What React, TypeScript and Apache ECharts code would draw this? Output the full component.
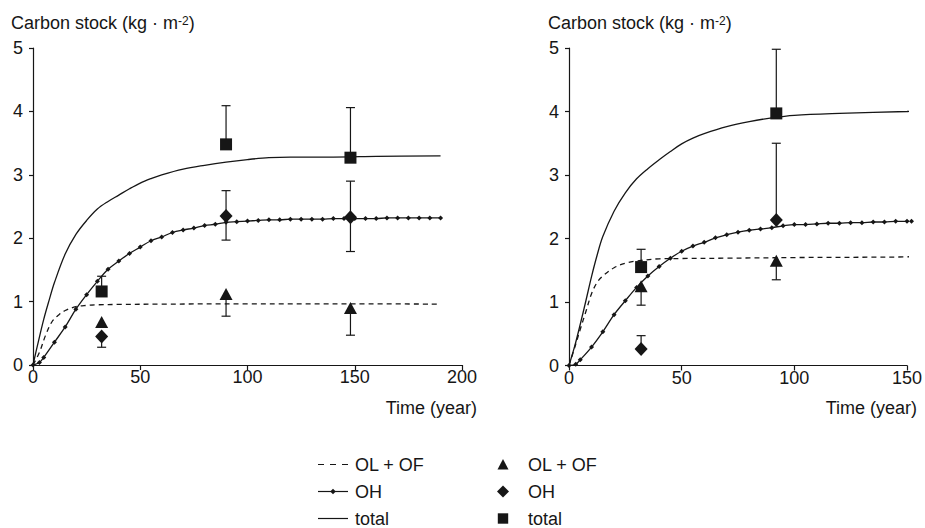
import React, { useEffect, useRef } from "react";
import * as echarts from "echarts";

const FONT = "'Liberation Sans', Arial, Helvetica, sans-serif";
const INK = "#161616";

// ---------- Left panel: model curves ----------
const leftOhT = [0, 3, 5, 10, 15, 20, 25, 30, 35, 40, 45, 50, 55, 60, 65, 70, 75, 80, 85, 90, 95, 100, 105, 110, 115, 120, 125, 130, 135, 140, 145, 150, 155, 160, 165, 170, 175, 180, 185, 190];
const leftOhC = [0, 0.04, 0.12, 0.36, 0.6, 0.88, 1.11, 1.32, 1.51, 1.64, 1.76, 1.86, 1.96, 2.02, 2.09, 2.13, 2.16, 2.2, 2.22, 2.25, 2.26, 2.27, 2.28, 2.29, 2.29, 2.3, 2.3, 2.3, 2.3, 2.31, 2.31, 2.31, 2.31, 2.31, 2.32, 2.32, 2.32, 2.32, 2.32, 2.32];
const leftTotT = [0, 2.5, 5, 7.5, 10, 15, 20, 25, 30, 35, 40, 45, 50, 55, 60, 70, 80, 90, 100, 110, 120, 140, 160, 190];
const leftTotC = [0, 0.37, 0.72, 1.02, 1.3, 1.75, 2.06, 2.28, 2.46, 2.58, 2.68, 2.78, 2.87, 2.94, 3.0, 3.09, 3.15, 3.2, 3.24, 3.27, 3.28, 3.28, 3.29, 3.3];
const leftFfT = [0, 3, 6, 9, 12, 15, 20, 25, 30, 40, 60, 100, 150, 190];
const leftFfC = [0, 0.2, 0.48, 0.69, 0.79, 0.86, 0.92, 0.94, 0.95, 0.955, 0.96, 0.965, 0.965, 0.96];

// ---------- Left panel: observations ----------
const leftObsT = [32, 90, 148];
const leftFfVal = [0.68, 1.12, 0.9];
const leftFfLow = [0.68, 0.77, 0.47];
const leftFfHigh = [0.68, 1.12, 0.9];
const leftOhVal = [0.45, 2.35, 2.33];
const leftOhLow = [0.28, 1.97, 1.79];
const leftOhHigh = [0.45, 2.75, 2.9];
const leftTotVal = [1.16, 3.48, 3.27];
const leftTotLow = [1.16, 3.48, 3.27];
const leftTotHigh = [1.4, 4.09, 4.06];

// ---------- Right panel: model curves ----------
const rightOhT = [0, 3, 5, 10, 15, 20, 25, 30, 35, 40, 45, 50, 55, 60, 65, 70, 75, 80, 85, 90, 95, 100, 105, 110, 115, 120, 125, 130, 135, 140, 145, 150, 152];
const rightOhC = [0, 0.02, 0.09, 0.29, 0.53, 0.8, 1.02, 1.23, 1.41, 1.56, 1.69, 1.8, 1.88, 1.94, 2.01, 2.06, 2.1, 2.13, 2.15, 2.17, 2.2, 2.22, 2.22, 2.23, 2.24, 2.24, 2.25, 2.25, 2.26, 2.26, 2.27, 2.27, 2.27];
const rightTotT = [0, 2.5, 5, 7.5, 10, 12.5, 15, 20, 25, 30, 35, 40, 45, 50, 55, 60, 70, 80, 90, 100, 120, 150, 152];
const rightTotC = [0, 0.3, 0.65, 1.02, 1.4, 1.74, 2.03, 2.43, 2.72, 2.94, 3.1, 3.24, 3.37, 3.49, 3.58, 3.65, 3.76, 3.84, 3.9, 3.94, 3.97, 4.0, 4.01];
const rightFfT = [0, 2.5, 5, 7.5, 10, 12.5, 15, 20, 25, 30, 40, 50, 70, 100, 150, 152];
const rightFfC = [0, 0.28, 0.57, 0.85, 1.13, 1.31, 1.41, 1.54, 1.61, 1.645, 1.68, 1.685, 1.69, 1.7, 1.71, 1.72];

// ---------- Right panel: observations ----------
const rightObsT = [32, 92];
const rightFfVal = [1.25, 1.65];
const rightFfLow = [0.95, 1.35];
const rightFfHigh = [1.25, 1.65];
const rightOhVal = [0.26, 2.29];
const rightOhLow = [0.26, 2.29];
const rightOhHigh = [0.47, 3.5];
const rightTotVal = [1.55, 3.97];
const rightTotLow = [1.55, 3.97];
const rightTotHigh = [1.83, 4.98];

// ---------- Axis ticks / labels ----------
const leftXMax = 200;
const rightXMax = 150;
const xStep = 50;
const yMax = 5;
const yStep = 1;
const yTitle = "{a|Carbon stock (kg · m}{s|-2}{a|)}";
const xTitle = "Time (year)";
const legendLineNames = ["OL + OF", "OH", "total"];
const legendMarkNames = ["OL + OF", "OH", "total"];

const pairs = (xs: number[], ys: number[]) => xs.map((x, i) => [x, ys[i]]);
const bars = (xs: number[], v: number[], lo: number[], hi: number[]) =>
  xs.map((x, i) => [x, v[i], lo[i], hi[i]]);

const renderErr = (_params: any, api: any) => {
  const x = api.value(0);
  const v = api.value(1);
  const lo = api.value(2);
  const hi = api.value(3);
  const pLo = api.coord([x, lo]);
  const pHi = api.coord([x, hi]);
  const style = { stroke: INK, lineWidth: 1.2 };
  const children: any[] = [
    { type: "line", shape: { x1: pLo[0], y1: pLo[1], x2: pHi[0], y2: pHi[1] }, style },
  ];
  if (hi > v) children.push({ type: "line", shape: { x1: pHi[0] - 4.5, y1: pHi[1], x2: pHi[0] + 4.5, y2: pHi[1] }, style });
  if (lo < v) children.push({ type: "line", shape: { x1: pLo[0] - 4.5, y1: pLo[1], x2: pLo[0] + 4.5, y2: pLo[1] }, style });
  return { type: "group", children };
};

const axisText = { color: INK, fontSize: 18, fontFamily: FONT };

const makeX = (gridIndex: number, max: number) => ({
  type: "value",
  gridIndex,
  min: 0,
  max,
  interval: xStep,
  axisLine: { show: true, onZero: false, lineStyle: { color: INK, width: 1.2 } },
  axisTick: { show: true, length: 5, lineStyle: { color: INK, width: 1.2 } },
  axisLabel: { ...axisText, margin: 3 },
  splitLine: { show: false },
});
const makeY = (gridIndex: number) => ({
  type: "value",
  gridIndex,
  min: 0,
  max: yMax,
  interval: yStep,
  axisLine: { show: true, onZero: false, lineStyle: { color: INK, width: 1.2 } },
  axisTick: { show: true, length: 4, lineStyle: { color: INK, width: 1.2 } },
  axisLabel: { ...axisText, margin: 10 },
  splitLine: { show: false },
});

const lineSeries = (idx: number, name: string, xs: number[], ys: number[], kind: "dash" | "oh" | "tot") => ({
  type: "line",
  name,
  xAxisIndex: idx,
  yAxisIndex: idx,
  data: pairs(xs, ys),
  smooth: 0.35,
  clip: false,
  symbol: kind === "oh" ? "diamond" : "none",
  symbolSize: 5,
  showSymbol: kind === "oh",
  itemStyle: { color: INK },
  lineStyle: { color: INK, width: 1.3, type: kind === "dash" ? [5, 4] : "solid" },
  z: 2,
});

const scatterSeries = (idx: number, name: string, xs: number[], ys: number[], symbol: string, size: any) => ({
  type: "scatter",
  name,
  xAxisIndex: idx,
  yAxisIndex: idx,
  data: pairs(xs, ys),
  symbol,
  symbolSize: size,
  itemStyle: { color: INK, opacity: 1 },
  z: 4,
});

const errSeries = (idx: number, data: number[][]) => ({
  type: "custom",
  xAxisIndex: idx,
  yAxisIndex: idx,
  data,
  encode: { x: 0, y: [1, 2, 3] },
  renderItem: renderErr,
  z: 3,
});

export default function App() {
  const ref = useRef<HTMLDivElement>(null);
  useEffect(() => {
    document.body.style.margin = "0";
    const chart = echarts.init(ref.current!, null, { renderer: "svg" });

    const richStyle = {
      a: { fontSize: 18, fontFamily: FONT, fill: INK, lineHeight: 20 },
      s: { fontSize: 12, fontFamily: FONT, fill: INK, lineHeight: 20, padding: [0, 0, 3, 0] },
    };
    const rows = [464.5, 491.5, 518.5];
    const lineX1 = 318;
    const lineX2 = 348;
    const markX = 503;
    const textStyle = (text: string) => ({ text, fill: INK, fontSize: 18, fontFamily: FONT, verticalAlign: "middle", align: "left" });

    const graphic: any[] = [
      { type: "text", x: 11, y: 22.5, style: { text: yTitle, rich: richStyle, verticalAlign: "middle", align: "left" } },
      { type: "text", x: 548, y: 22.5, style: { text: yTitle, rich: richStyle, verticalAlign: "middle", align: "left" } },
      { type: "text", x: 477, y: 408, style: { text: xTitle, fill: INK, fontSize: 18, fontFamily: FONT, verticalAlign: "middle", align: "right" } },
      { type: "text", x: 917, y: 408, style: { text: xTitle, fill: INK, fontSize: 18, fontFamily: FONT, verticalAlign: "middle", align: "right" } },
      // legend: model lines
      { type: "line", shape: { x1: lineX1, y1: rows[0], x2: lineX2, y2: rows[0] }, style: { stroke: INK, lineWidth: 1.2, lineDash: [6, 6] } },
      { type: "line", shape: { x1: lineX1, y1: rows[1], x2: lineX2, y2: rows[1] }, style: { stroke: INK, lineWidth: 1.2 } },
      { type: "polygon", shape: { points: [[333, rows[1] - 2.8], [335.8, rows[1]], [333, rows[1] + 2.8], [330.2, rows[1]]] }, style: { fill: INK } },
      { type: "line", shape: { x1: lineX1, y1: rows[2], x2: lineX2, y2: rows[2] }, style: { stroke: INK, lineWidth: 1.2 } },
      ...legendLineNames.map((n, i) => ({ type: "text", x: 355, y: rows[i], style: textStyle(n) })),
      // legend: observation markers
      { type: "polygon", shape: { points: [[markX, rows[0] - 5.5], [markX - 5.5, rows[0] + 5], [markX + 5.5, rows[0] + 5]] }, style: { fill: INK } },
      { type: "polygon", shape: { points: [[markX, rows[1] - 6], [markX + 6, rows[1]], [markX, rows[1] + 6], [markX - 6, rows[1]]] }, style: { fill: INK } },
      { type: "rect", shape: { x: markX - 5.2, y: rows[2] - 5.2, width: 10.4, height: 10.4 }, style: { fill: INK } },
      ...legendMarkNames.map((n, i) => ({ type: "text", x: 528, y: rows[i], style: textStyle(n) })),
    ];

    const option: any = {
      animation: false,
      backgroundColor: "#ffffff",
      textStyle: { fontFamily: FONT },
      grid: [
        { left: 33, top: 48, width: 429, height: 317, containLabel: false },
        { left: 569, top: 48, width: 339, height: 317.5, containLabel: false },
      ],
      xAxis: [makeX(0, leftXMax), makeX(1, rightXMax)],
      yAxis: [makeY(0), makeY(1)],
      series: [
        lineSeries(0, "OL + OF model", leftFfT, leftFfC, "dash"),
        lineSeries(0, "OH model", leftOhT, leftOhC, "oh"),
        lineSeries(0, "total model", leftTotT, leftTotC, "tot"),
        errSeries(0, bars(leftObsT, leftFfVal, leftFfLow, leftFfHigh)),
        errSeries(0, bars(leftObsT, leftOhVal, leftOhLow, leftOhHigh)),
        errSeries(0, bars(leftObsT, leftTotVal, leftTotLow, leftTotHigh)),
        scatterSeries(0, "OL + OF", leftObsT, leftFfVal, "triangle", [13, 12]),
        scatterSeries(0, "OH", leftObsT, leftOhVal, "diamond", [13, 14]),
        scatterSeries(0, "total", leftObsT, leftTotVal, "rect", 12),

        lineSeries(1, "OL + OF model", rightFfT, rightFfC, "dash"),
        lineSeries(1, "OH model", rightOhT, rightOhC, "oh"),
        lineSeries(1, "total model", rightTotT, rightTotC, "tot"),
        errSeries(1, bars(rightObsT, rightFfVal, rightFfLow, rightFfHigh)),
        errSeries(1, bars(rightObsT, rightOhVal, rightOhLow, rightOhHigh)),
        errSeries(1, bars(rightObsT, rightTotVal, rightTotLow, rightTotHigh)),
        scatterSeries(1, "OL + OF", rightObsT, rightFfVal, "triangle", [13, 12]),
        scatterSeries(1, "OH", rightObsT, rightOhVal, "diamond", [13, 14]),
        scatterSeries(1, "total", rightObsT, rightTotVal, "rect", 12),
      ],
      graphic,
    };
    chart.setOption(option);
    return () => chart.dispose();
  }, []);
  return <div ref={ref} style={{ width: 925, height: 528 }} />;
}
